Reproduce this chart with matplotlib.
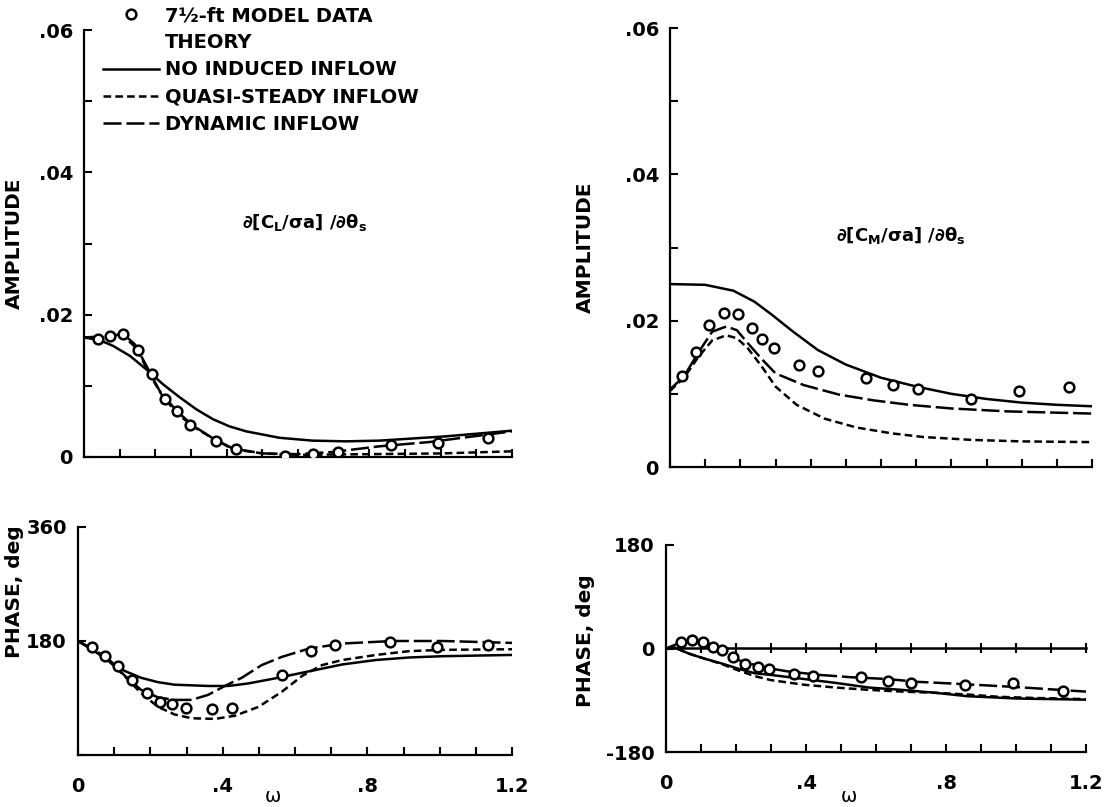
import matplotlib
matplotlib.use('Agg')
import matplotlib.pyplot as plt
from matplotlib.lines import Line2D
from matplotlib.ticker import MultipleLocator

plt.rcParams['font.family'] = 'DejaVu Sans'
plt.rcParams['font.weight'] = 'bold'
plt.rcParams['mathtext.default'] = 'bf'
plt.rcParams['lines.scale_dashes'] = False

# ---- data ----
series_names = ['7\u00bd-ft MODEL DATA', 'THEORY', 'NO INDUCED INFLOW',
                'QUASI-STEADY INFLOW', 'DYNAMIC INFLOW']

# lift, measured points
w_cl = [0.039, 0.074, 0.11, 0.15, 0.19, 0.228, 0.261, 0.298, 0.37, 0.425,
        0.563, 0.643, 0.711, 0.862, 0.993, 1.134]
amp_cl = [0.0166, 0.0170, 0.0173, 0.0151, 0.0117, 0.0081, 0.0064, 0.0045,
          0.0023, 0.0011, 0.0002, 0.0004, 0.0007, 0.0017, 0.0020, 0.0027]
ph_cl = [170, 157, 140, 119, 98, 84, 80, 74, 73, 75, 127, 165, 173, 179, 170, 174]

# lift amplitude theory
w_cl_no = [0, .045, .082, .129, .175, .222, .268, .315, .362, .408, .455, .548,
           .641, .734, .828, .921, 1.014, 1.107, 1.2]
amp_cl_no = [.0168, .0164, .0156, .0142, .0123, .0102, .0084, .0067, .0053, .0043,
             .0036, .0027, .0023, .0022, .0023, .0026, .0029, .0033, .0037]
w_cl_qs = [0, .073, .11, .147, .184, .222, .268, .315, .362, .417, .501, .6, .8, 1.0, 1.2]
amp_cl_qs = [.0168, .0168, .0170, .0153, .0116, .0084, .0058, .0040, .0026, .0011,
             .0005, .0003, .0004, .0005, .0008]
w_cl_dyn = [0, .073, .11, .143, .175, .212, .259, .306, .362, .417, .501, .595,
            .697, .828, .968, 1.107, 1.2]
amp_cl_dyn = [.0168, .0170, .0173, .0158, .0128, .0093, .0065, .0044, .0026, .0012,
              .0005, .0004, .0007, .0015, .0021, .0030, .0036]

# lift phase theory
w_clp_no = [0, .045, .082, .128, .174, .221, .267, .314, .36, .416, .471, .545,
            .638, .731, .824, .916, 1.009, 1.2]
ph_cl_no = [180, 164, 150, 133, 122, 115, 111, 110, 109, 109, 113, 121, 132, 143,
            150, 154, 156, 158]
w_clp_qs = [0, .045, .082, .128, .174, .221, .267, .314, .379, .434, .499, .564,
            .62, .675, .731, .824, .916, 1.009, 1.2]
ph_cl_qs = [180, 165, 150, 125, 98, 76, 64, 58, 57, 62, 76, 100, 125, 142, 150,
            158, 164, 166, 167]
w_clp_dyn = [0, .045, .082, .128, .174, .221, .267, .314, .36, .406, .453, .508,
             .564, .638, .731, .87, 1.009, 1.2]
ph_cl_dyn = [180, 166, 153, 126, 103, 91, 87, 87, 95, 109, 122, 142, 155, 168,
             176, 180, 180, 177]

# moment, measured points
w_cm = [0.034, 0.073, 0.112, 0.153, 0.193, 0.233, 0.263, 0.295, 0.366, 0.421,
        0.558, 0.635, 0.704, 0.855, 0.993, 1.134]
amp_cm = [0.0125, 0.0157, 0.0194, 0.0211, 0.0209, 0.0190, 0.0175, 0.0162, 0.0140,
          0.0131, 0.0121, 0.0112, 0.0106, 0.0093, 0.0104, 0.0109]
w_cm_ph = [0.042, 0.073, 0.105, 0.135, 0.16, 0.19, 0.227, 0.262, 0.295, 0.366,
           0.42, 0.558, 0.633, 0.701, 0.853, 0.99, 1.134]
ph_cm = [12, 15, 11, 3, -3, -15, -27, -33, -36, -44, -47, -50, -56, -60, -64, -60, -74]

# moment amplitude theory
w_cm_no = [0, .1, .18, .24, .29, .35, .42, .5, .6, .7, .8, .9, 1.0, 1.1, 1.2]
amp_cm_no = [.0250, .0249, .0241, .0226, .0208, .0185, .0160, .0140, .0122, .0110,
             .0100, .0093, .0088, .0085, .0083]
w_cm_qs = [0, .04, .08, .12, .16, .19, .22, .26, .3, .36, .44, .53, .63, .72, .86, 1.0, 1.2]
amp_cm_qs = [.0104, .0122, .0150, .0173, .0180, .0176, .0163, .0138, .0110, .0085,
             .0066, .0054, .0046, .0041, .0037, .0035, .0034]
w_cm_dyn = [0, .04, .08, .12, .16, .19, .22, .26, .3, .38, .48, .58, .68, .8, .96, 1.2]
amp_cm_dyn = [.0106, .0124, .0156, .0185, .0192, .0187, .0170, .0148, .0128, .0112,
              .0099, .0091, .0085, .0080, .0076, .0073]

# moment phase theory
w_cmp_no = [0, .023, .066, .112, .159, .206, .253, .3, .394, .487, .581, .675, .769,
            .862, 1.003, 1.2]
ph_cm_no = [0, 2, -9, -18, -26, -35, -43, -46, -53, -60, -68, -72, -77, -83, -87, -89]
w_cmp_qs = [0, .023, .066, .112, .159, .206, .253, .3, .394, .487, .581, .675, .769,
            .862, .95, 1.05, 1.2]
ph_cm_qs = [0, 2, -9, -18, -27, -38, -48, -55, -63, -68, -72, -75, -77, -80, -84, -86, -88]
w_cmp_dyn = [0, .04, .075, .105, .135, .165, .2, .25, .3, .35, .44, .53, .63, .72,
             .82, .91, 1.0, 1.1, 1.2]
ph_cm_dyn = [0, 10, 14, 11, 3, -7, -19, -28, -35, -40, -46, -50, -53, -58, -61, -64,
             -67, -71, -75]

# ---- styles ----
LW = 1.8
solid = dict(color='black', lw=LW, ls='-')
quasi = dict(color='black', lw=LW, ls=(0, (5.5, 3)))
dyn = dict(color='black', lw=LW, ls=(0, (13, 3.5)))
pts = dict(ls='none', marker='o', ms=7, mfc='white', mec='black', mew=1.8, zorder=4)

W, H = 1106, 807
fig = plt.figure(figsize=(W / 100, H / 100), dpi=100)


def box(l, t, r, b):
    return [l / W, 1 - b / H, (r - l) / W, (b - t) / H]


def style(ax):
    for s in ['top', 'right']:
        ax.spines[s].set_visible(False)
    for s in ['left', 'bottom']:
        ax.spines[s].set_linewidth(1.6)
    ax.tick_params(which='both', direction='in', length=6, width=1.5,
                   labelsize=14, pad=8)
    ax.set_xlim(0, 1.2)
    ax.set_xticks([0, .4, .8, 1.2], ['0', '.4', '.8', '1.2'])
    ax.xaxis.set_minor_locator(MultipleLocator(0.1))
    ax.tick_params(axis='x', pad=16)


ax1 = fig.add_axes(box(84, 30, 512, 457))
ax2 = fig.add_axes(box(670, 28, 1092, 467))
ax3 = fig.add_axes(box(78, 527, 512, 755))
ax4 = fig.add_axes(box(666, 545, 1086, 752))
for ax in [ax1, ax2, ax3, ax4]:
    style(ax)

# amplitude panels
for ax in [ax1, ax2]:
    ax.set_ylim(0, 0.06)
    ax.set_yticks([0, .02, .04, .06], ['0', '.02', '.04', '.06'])
    ax.yaxis.set_minor_locator(MultipleLocator(0.01))
    ax.tick_params(axis='x', labelbottom=False)
    ax.set_ylabel('AMPLITUDE', fontsize=14.5, fontweight='bold')

ax1.plot(w_cl_no, amp_cl_no, **solid)
ax1.plot(w_cl_qs, amp_cl_qs, **quasi)
ax1.plot(w_cl_dyn, amp_cl_dyn, **dyn)
ax1.plot(w_cl, amp_cl, **pts)
ax1.text(0.617, 0.033, r'$\partial$[C$_{L}$/$\sigma$a] /$\partial\theta_{s}$',
         fontsize=13, ha='center', va='center')
ax1.yaxis.set_label_coords(-0.14, 0.5)

ax2.plot(w_cm_no, amp_cm_no, **solid)
ax2.plot(w_cm_qs, amp_cm_qs, **quasi)
ax2.plot(w_cm_dyn, amp_cm_dyn, **dyn)
ax2.plot(w_cm, amp_cm, **pts)
ax2.text(0.655, 0.0317, r'$\partial$[C$_{M}$/$\sigma$a] /$\partial\theta_{s}$',
         fontsize=13, ha='center', va='center')
ax2.yaxis.set_label_coords(-0.178, 0.5)

# phase panels
ax3.set_ylim(0, 360)
ax3.set_yticks([0, 180, 360], ['', '180', '360'])
ax3.plot(w_clp_no, ph_cl_no, **solid)
ax3.plot(w_clp_qs, ph_cl_qs, **quasi)
ax3.plot(w_clp_dyn, ph_cl_dyn, **dyn)
ax3.plot(w_cl, ph_cl, **pts)
ax3.set_ylabel('PHASE, deg', fontsize=14.5, fontweight='bold')
ax3.yaxis.set_label_coords(-0.124, 0.715)
ax3.set_xlabel('\u03c9', fontsize=14)
ax3.xaxis.set_label_coords(0.45, -0.14)

ax4.set_ylim(-180, 180)
ax4.set_yticks([-180, 0, 180], ['-180', '0', '180'])
zero = ax4.secondary_xaxis(0.5)
zero.xaxis.set_major_locator(MultipleLocator(0.1))
zero.tick_params(which='both', direction='inout', length=7, width=1.5,
                 labelbottom=False, labeltop=False)
for s in zero.spines.values():
    s.set_linewidth(LW)
ax4.plot(w_cmp_no, ph_cm_no, **solid)
ax4.plot(w_cmp_qs, ph_cm_qs, **quasi)
ax4.plot(w_cmp_dyn, ph_cm_dyn, **dyn)
ax4.plot(w_cm_ph, ph_cm, **pts)
ax4.set_ylabel('PHASE, deg', fontsize=14.5, fontweight='bold')
ax4.yaxis.set_label_coords(-0.17, 0.54)
ax4.set_xlabel('\u03c9', fontsize=14)
ax4.xaxis.set_label_coords(0.435, -0.17)

# legend
handles = [Line2D([], [], **pts), Line2D([], [], ls='none'),
           Line2D([], [], **solid), Line2D([], [], **quasi), Line2D([], [], **dyn)]
fig.legend(handles, series_names, loc='upper left',
           bbox_to_anchor=(103 / W, 1 - 6 / H), frameon=False, fontsize=14,
           handlelength=2.9, handletextpad=0.3, labelspacing=0.42,
           borderpad=0, borderaxespad=0, numpoints=1)

fig.savefig('out.png', dpi=100)
